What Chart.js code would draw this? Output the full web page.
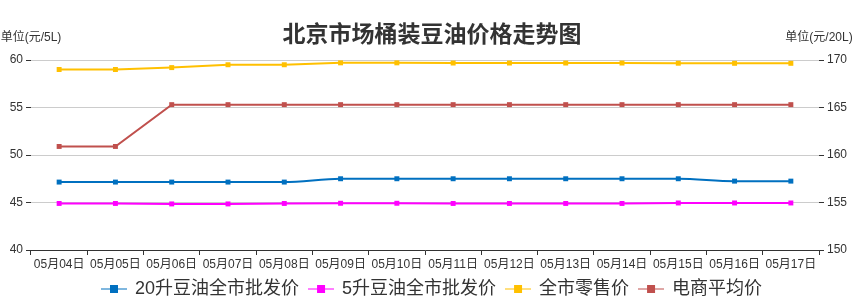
<!DOCTYPE html>
<html><head><meta charset="utf-8">
<script src="https://cdn.jsdelivr.net/npm/chart.js@4.4.0/dist/chart.umd.min.js"></script>
<style>html,body{margin:0;padding:0;background:#fff}#wrap{width:864px;height:300px}</style>
</head><body><div id="wrap"><canvas id="c" width="864" height="300"></canvas></div>
<script>
const categories = ['05月04日','05月05日','05月06日','05月07日','05月08日','05月09日','05月10日','05月11日','05月12日','05月13日','05月14日','05月15日','05月16日','05月17日'];
const wholesale20L = [157.15,157.15,157.15,157.15,157.15,157.5,157.5,157.5,157.5,157.5,157.5,157.5,157.25,157.25];
const wholesale5L = [44.9,44.9,44.85,44.85,44.9,44.92,44.92,44.9,44.9,44.9,44.9,44.95,44.95,44.95];
const retail = [59.0,59.0,59.2,59.5,59.5,59.7,59.7,59.68,59.68,59.68,59.68,59.66,59.65,59.65];
const ecommerce = [50.9,50.9,55.3,55.3,55.3,55.3,55.3,55.3,55.3,55.3,55.3,55.3,55.3,55.3];
const seriesNames = ['20升豆油全市批发价','5升豆油全市批发价','全市零售价','电商平均价'];
const leftTicks = [40,45,50,55,60];
const rightTicks = [150,155,160,165,170];
const titleText = '北京市场桶装豆油价格走势图';
const leftAxisName = '单位(元/5L)';
const rightAxisName = '单位(元/20L)';

const FONT = "'Liberation Sans', 'Noto Sans CJK SC', sans-serif";
const colors = ['#0070c0','#ff00ff','#ffc000','#c0504d'];

function legendIcon(color){
  const cv = document.createElement('canvas');
  cv.width = 26; cv.height = 12;
  const g = cv.getContext('2d');
  g.globalAlpha = 0.5;
  g.strokeStyle = color; g.lineWidth = 2;
  g.beginPath(); g.moveTo(0,6); g.lineTo(26,6); g.stroke();
  g.globalAlpha = 1;
  g.fillStyle = color;
  g.fillRect(9,2,8,8);
  return cv;
}

const axisNamePlugin = {
  id: 'axisNames',
  afterDraw(chart){
    const {ctx, chartArea} = chart;
    ctx.save();
    ctx.font = '12px ' + FONT;
    ctx.fillStyle = '#333';
    ctx.textAlign = 'center';
    ctx.textBaseline = 'middle';
    ctx.fillText(leftAxisName, chartArea.left, 38);
    ctx.fillText(rightAxisName, chartArea.right, 38);
    ctx.restore();
  }
};

function mk(i, data, axis, tension){
  return {
    label: seriesNames[i], data, yAxisID: axis,
    borderColor: colors[i], backgroundColor: colors[i],
    borderWidth: 2, pointStyle: 'rect', pointRadius: 3.5,
    pointBackgroundColor: colors[i], pointBorderColor: colors[i], pointBorderWidth: 0,
    tension: tension, cubicInterpolationMode: tension ? 'monotone' : 'default', fill: false
  };
}

new Chart(document.getElementById('c'), {
  type: 'line',
  data: {
    labels: categories,
    datasets: [
      mk(0, wholesale20L, 'yR', 0.4),
      mk(1, wholesale5L, 'yL', 0),
      mk(2, retail, 'yL', 0),
      mk(3, ecommerce, 'yL', 0)
    ]
  },
  plugins: [axisNamePlugin],
  options: {
    responsive: false, animation: false, devicePixelRatio: 1,
    layout: { padding: 0 },
    plugins: {
      title: {
        display: true, text: titleText, color: '#333',
        font: { family: FONT, size: 23, weight: 'bold', lineHeight: 1.2 },
        padding: { top: 22, bottom: 10.4 }
      },
      legend: {
        position: 'bottom', maxHeight: 30,
        labels: {
          color: '#333', font: { family: FONT, size: 18 },
          usePointStyle: true, pointStyleWidth: 24, padding: 10,
          generateLabels(chart){
            return chart.data.datasets.map((ds, i) => ({
              text: ds.label, pointStyle: legendIcon(colors[i]),
              fillStyle: colors[i], strokeStyle: colors[i], lineWidth: 0,
              hidden: false, datasetIndex: i, fontColor: '#333'
            }));
          }
        }
      },
      tooltip: { enabled: false }
    },
    scales: {
      x: {
        offset: true,
        grid: { offset: true, drawOnChartArea: false, drawTicks: true, tickLength: 5, tickColor: '#333' },
        border: { display: true, color: '#333', width: 1 },
        ticks: { color: '#333', font: { family: FONT, size: 12 }, padding: 2, maxRotation: 0, autoSkip: false },
        afterFit(s){ s.height = 20; }
      },
      yL: {
        position: 'left', min: leftTicks[0], max: leftTicks[leftTicks.length-1],
        grid: { color: '#ccc', tickColor: '#333', tickLength: 5 },
        border: { display: false },
        ticks: { stepSize: leftTicks[1]-leftTicks[0], color: '#333', font: { family: FONT, size: 12 }, padding: 3 },
        afterFit(s){ s.width = 31; }
      },
      yR: {
        position: 'right', min: rightTicks[0], max: rightTicks[rightTicks.length-1],
        grid: { drawOnChartArea: false, tickColor: '#333', tickLength: 5 },
        border: { display: false },
        ticks: { stepSize: rightTicks[1]-rightTicks[0], color: '#333', font: { family: FONT, size: 12 }, padding: 3 },
        afterFit(s){ s.width = 45; }
      }
    }
  }
});
</script></body></html>
